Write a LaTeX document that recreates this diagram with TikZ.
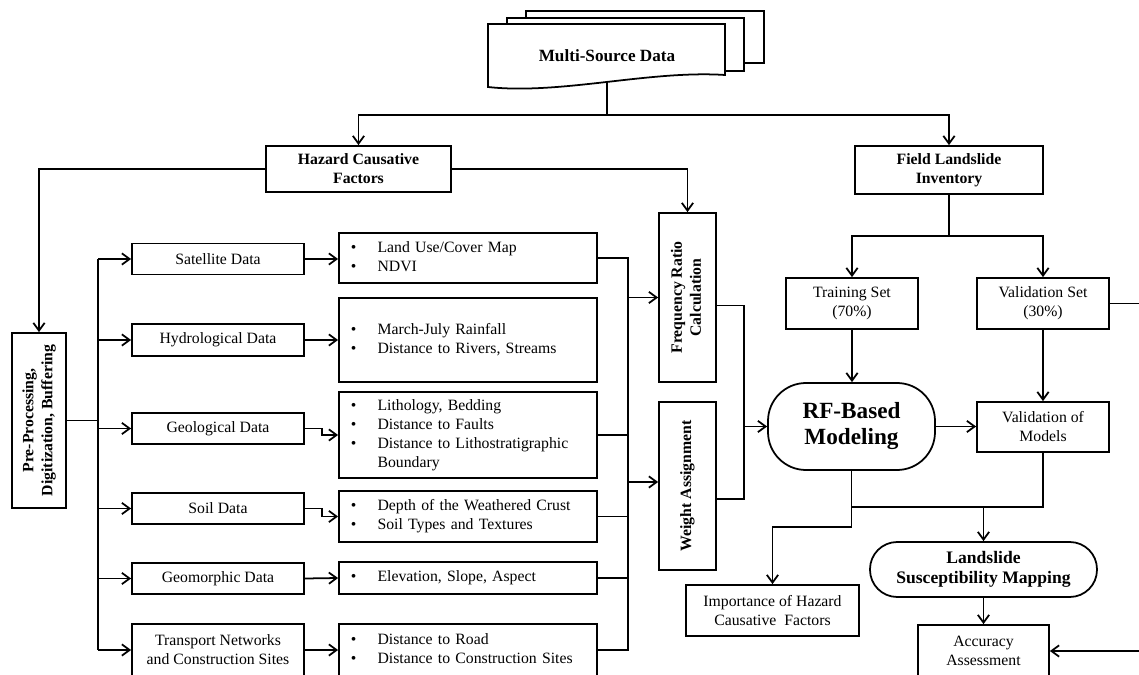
\documentclass[tikz,border=0pt]{standalone}
\usepackage{fontspec}
\usepackage{graphicx}
\setmainfont{Liberation Serif}
\usetikzlibrary{arrows.meta}
\begin{document}
\begin{tikzpicture}[x=0.025cm,y=-0.025cm,
  every node/.style={font=\fontsize{11.2}{13.5}\selectfont},
  sz/.style 2 args={minimum width=#1*0.025cm,minimum height=#2*0.025cm},
  conn/.style={line width=1.25pt},
  arr/.style={conn,-{Straight Barb[length=5.5pt,width=8pt]}},
  box/.style={draw,line width=1.25pt,fill=white,inner sep=2pt,align=center},
  bbox/.style={box,font=\fontsize{11.2}{13.5}\selectfont\bfseries},
  list/.style={draw,line width=1.25pt,align=left,inner xsep=0.3cm,inner ysep=2pt,text width=5.85cm},
]
\useasboundingbox (0,0) rectangle (1139,675);
\clip (0,0) rectangle (1139,675);

% Multi-source data document stack
\draw[conn,fill=white] (526,11) rectangle (764,63);
\draw[conn,fill=white] (507,18) rectangle (744,71);
\draw[conn,fill=white] (488,24) -- (725,24) -- (725,75) .. controls (650,70) and (560,95) .. (488,87) -- cycle;
\node[font=\fontsize{12.2}{14}\selectfont\bfseries] (msd) at (607,56) {Multi-Source Data};
\coordinate (msdb) at (607,82);

% top level boxes
\node[bbox,sz={185}{46}] (haz) at (358.5,169) {Hazard Causative\\Factors};
\node[bbox,sz={188}{48}] (fli) at (949,170) {Field Landslide\\Inventory};

\node[bbox,sz={54}{175}] (pre) at (39,420.5) {\rotatebox{90}{\begin{tabular}{@{}c@{}}Pre-Processing,\\Digitization, Buffering\end{tabular}}};
\node[bbox,sz={57}{169}] (fr) at (687.5,297.5) {\rotatebox{90}{\begin{tabular}{@{}c@{}}Frequency Ratio\\Calculation\end{tabular}}};
\node[bbox,sz={57}{168}] (wa) at (687.5,486) {\rotatebox{90}{Weight Assignment}};

% data boxes
\node[box,sz={172}{31}] (sat) at (218,259) {Satellite Data};
\node[box,sz={172}{32}] (hyd) at (218,340) {Hydrological Data};
\node[box,sz={172}{31}] (geo) at (218,428.5) {Geological Data};
\node[box,sz={172}{31}] (soil) at (218,508.5) {Soil Data};
\node[box,sz={172}{31}] (geom) at (218,578.5) {Geomorphic Data};
\node[box,sz={172}{52}] (trans) at (218,650) {Transport Networks\\and Construction Sites};

% factor lists
\node[list,sz={258}{50}] (lu) at (468,258) {\begin{tabular}{@{}l@{\hspace{15pt}}l@{}}\textbullet & Land Use/Cover Map\\ \textbullet & NDVI\end{tabular}};
\node[list,sz={258}{84}] (hb) at (468,340) {\begin{tabular}{@{}l@{\hspace{15pt}}l@{}}\textbullet & March-July Rainfall\\ \textbullet & Distance to Rivers, Streams\end{tabular}};
\node[list,sz={258}{86}] (gb) at (468,435) {\begin{tabular}{@{}l@{\hspace{15pt}}l@{}}\textbullet & Lithology, Bedding\\ \textbullet & Distance to Faults\\ \textbullet & Distance to Lithostratigraphic\\ & Boundary\end{tabular}};
\node[list,sz={258}{51}] (sb) at (468,516.5) {\begin{tabular}{@{}l@{\hspace{15pt}}l@{}}\textbullet & Depth of the Weathered Crust\\ \textbullet & Soil Types and Textures\end{tabular}};
\node[list,sz={258}{32}] (eb) at (468,578) {\begin{tabular}{@{}l@{\hspace{15pt}}l@{}}\textbullet & Elevation, Slope, Aspect\end{tabular}};
\node[list,sz={258}{52}] (tb) at (468,650) {\begin{tabular}{@{}l@{\hspace{15pt}}l@{}}\textbullet & Distance to Road\\ \textbullet & Distance to Construction Sites\end{tabular}};

% right side
\node[box,sz={132}{51}] (ts) at (852,303.5) {Training Set\\(70\%)};
\node[box,sz={132}{51}] (vs) at (1043,303.5) {Validation Set\\(30\%)};
\node[box,sz={132}{50}] (vm) at (1043,427) {Validation of\\Models};
\node[draw,line width=1.25pt,rounded corners=0.95cm,sz={167}{87},align=center,font=\fontsize{16.5}{18.5}\selectfont\bfseries] (rf) at (851.5,426.5) {RF-Based\\Modeling};
\node[draw,line width=1.25pt,rounded corners=0.68cm,sz={227}{55},align=center,font=\fontsize{12.5}{14.5}\selectfont\bfseries] (lsm) at (983.5,569.5) {Landslide\\Susceptibility Mapping};
\node[box,sz={173}{51}] (imp) at (772.5,610.5) {Importance of Hazard\\Causative\ \ Factors};
\node[box,sz={131}{52}] (acc) at (983.5,651) {Accuracy\\Assessment};

% connectors: top
\coordinate (j1) at (607,115);
\draw[conn] (msdb) -- (j1);
\draw[arr] (j1) -| (haz.north);
\draw[arr] (j1) -| (fli.north);
\draw[arr] (haz.west) -| (pre.north);
\draw[arr] (haz.east) -| (fr.north);

% trunk
\coordinate (tt) at (98,259);
\coordinate (tbm) at (98,650);
\draw[conn] (pre.east) -- (pre.east -| tt);
\draw[conn] (tt) -- (tbm);
\foreach \b in {sat,hyd,geo,soil,geom,trans}{
  \draw[arr] (tt |- \b.west) -- (\b.west);
}

% data -> lists
\draw[arr] (sat.east) -- (lu.west |- sat.east);
\draw[arr] (hyd.east) -- (hb.west);
\draw[arr] (geo.east) -- ++(17,0) |- (gb.west);
\draw[arr] (soil.east) -- ++(17,0) |- (sb.west);
\draw[arr] (geom.east) -- (eb.west);
\draw[arr] (trans.east) -- (tb.west);

% bus
\coordinate (bus) at (628,0);
\draw[conn] (lu.east) -- (lu.east -| bus) -- (tb.east -| bus) -- (tb.east);
\foreach \b in {gb,sb,eb}{
  \draw[conn] (\b.east) -- (\b.east -| bus);
}
\draw[arr] (bus |- fr.west) -- (fr.west);
\draw[arr] (bus |- 0,482) -- (wa.west |- 0,482);

% fr/wa -> rf
\coordinate (fb) at (744,0);
\draw[conn] ([yshift=-0.2cm]fr.east) -- ([yshift=-0.2cm]fr.east -| fb) -- ([yshift=-0.325cm]wa.east -| fb) -- ([yshift=-0.325cm]wa.east);
\draw[arr] (fb |- rf.west) -- (rf.west);

% inventory split
\coordinate (j2) at (949,236);
\draw[conn] (fli.south) -- (j2);
\draw[arr] (j2) -| (ts.north);
\draw[arr] (j2) -| (vs.north);
\draw[arr] (ts.south) -- (rf.north -| ts.south);
\draw[arr] (vs.south) -- (vm.north);
\draw[arr] (rf.east) -- (vm.west |- rf.east);

% outputs
\coordinate (jy) at (0,507);
\draw[conn] (rf.south) -- (rf.south |- jy) -- (vm.south |- jy) -- (vm.south);
\draw[arr] (lsm.north |- jy) -- (lsm.north);
\draw[arr] (rf.south |- jy) -- ++(0,20) -| (imp.north);
\draw[arr] (lsm.south) -- (acc.north);

% right edge (cut off)
\coordinate (edge) at (1160,0);
\draw[conn] (vs.east) -- (vs.east -| edge);
\draw[arr] (acc.east -| edge) -- (acc.east);
\end{tikzpicture}
\end{document}
